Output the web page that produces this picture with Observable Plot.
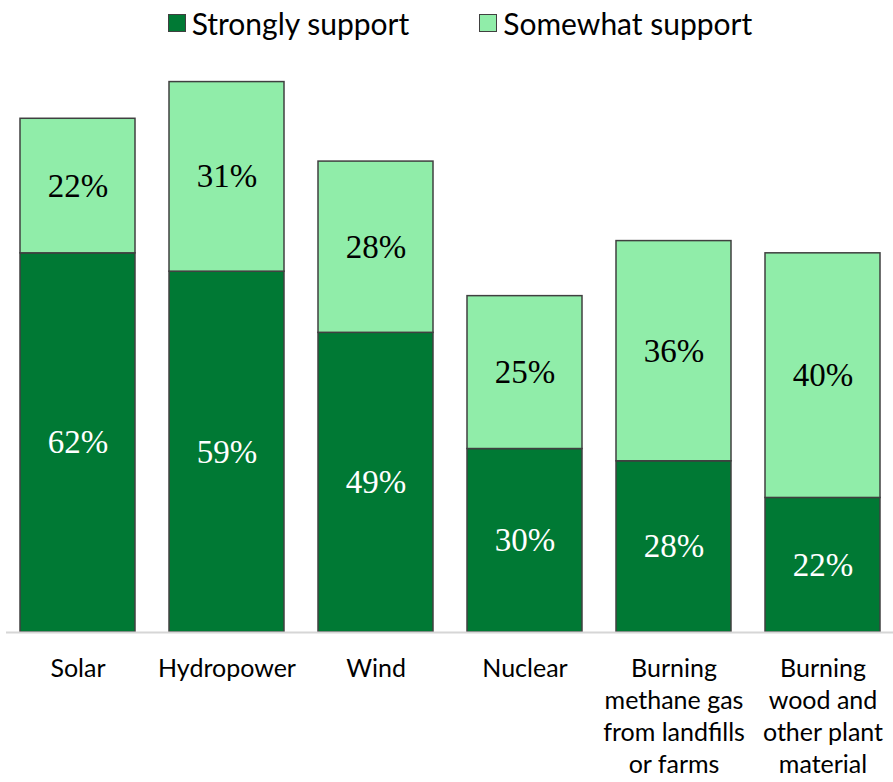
<!DOCTYPE html>
<html>
<head>
<meta charset="utf-8">
<script src="https://cdn.jsdelivr.net/npm/d3@7"></script>
<script src="https://cdn.jsdelivr.net/npm/@observablehq/plot@0.6"></script>
<style>
  body { margin: 0; background: #fff; }
  #legend { height: 45px; display: flex; justify-content: center; align-items: center; font-family: Lato, "Open Sans", sans-serif; font-size: 30px; color: #000; padding-left: 27px; box-sizing: border-box; }
  .item { display: flex; align-items: center; margin: 0 35px; }
  .sw { width: 16px; height: 16px; border: 1.5px solid #404040; margin-right: 6px; }
  svg { display: block; }
</style>
</head>
<body>
<div id="legend"></div>
<div id="chart"></div>
<script>
const categories = ["Solar", "Hydropower", "Wind", "Nuclear", "Burning methane gas from landfills or farms", "Burning wood and other plant material"];
const tickLabels = ["Solar", "Hydropower", "Wind", "Nuclear", "Burning\nmethane gas\nfrom landfills\nor farms", "Burning\nwood and\nother plant\nmaterial"];
const seriesNames = ["Strongly support", "Somewhat support"];
const strongly = [62, 59, 49, 30, 28, 22];
const somewhat = [22, 31, 28, 25, 36, 40];
const colors = ["#007934", "#90eda9"];
const textColors = ["#ffffff", "#000000"];

const data = [];
seriesNames.forEach((s, si) => {
  const vals = si === 0 ? strongly : somewhat;
  categories.forEach((c, i) => data.push({category: c, series: s, value: vals[i]}));
});
const labelData = categories.map((c, i) => ({category: c, label: tickLabels[i]}));

const legend = document.getElementById("legend");
seriesNames.forEach((s, i) => {
  const it = document.createElement("div");
  it.className = "item";
  const sw = document.createElement("span");
  sw.className = "sw";
  sw.style.background = colors[i];
  it.appendChild(sw);
  const t = document.createElement("span");
  t.textContent = s;
  it.appendChild(t);
  legend.appendChild(it);
});

const chart = Plot.plot({
  width: 893,
  height: 737,
  marginTop: 6,
  marginBottom: 150,
  marginLeft: 6,
  marginRight: 0,
  x: {domain: categories, paddingInner: 0.23, paddingOuter: 0.09, axis: null},
  y: {domain: [0, 95], axis: null},
  color: {domain: seriesNames, range: colors},
  marks: [
    Plot.barY(data, {x: "category", y: "value", fill: "series", stroke: "#404040", strokeWidth: 1.5, order: seriesNames}),
    Plot.ruleY([0], {stroke: "#d6d6d6", strokeWidth: 2}),
    Plot.text(data, Plot.stackY({
      x: "category", y: "value", z: "series", order: seriesNames,
      text: d => d.value + "%",
      fill: d => textColors[seriesNames.indexOf(d.series)],
      fontSize: 33, fontFamily: "Liberation Serif, DejaVu Serif, serif"
    })),
    Plot.text(labelData, {
      x: "category", y: () => 0, text: "label",
      lineAnchor: "top", dy: 22, fontSize: 25, lineHeight: 1.28,
      fontFamily: "Lato, Open Sans, sans-serif", fill: "#000"
    })
  ]
});
document.getElementById("chart").appendChild(chart);
</script>
</body>
</html>
